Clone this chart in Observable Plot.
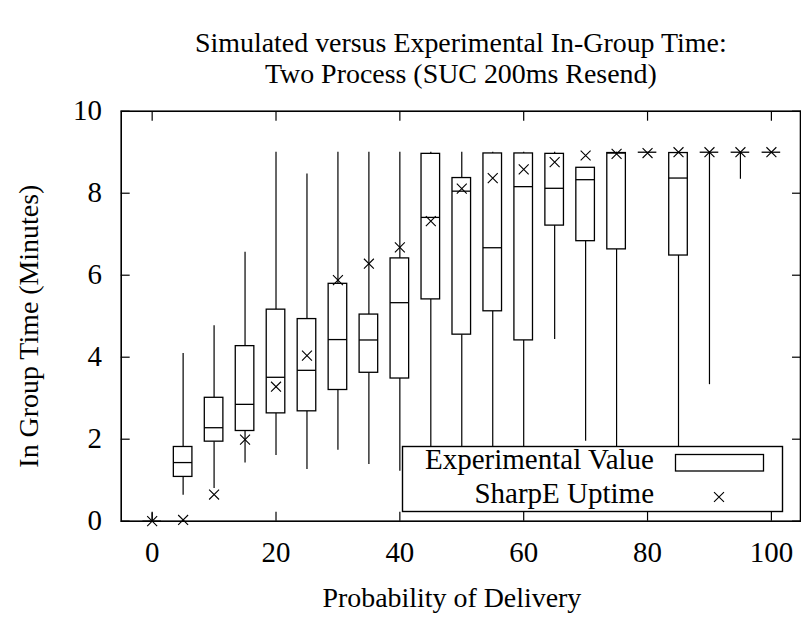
<!DOCTYPE html>
<html>
<head>
<meta charset="utf-8">
<script src="https://cdn.jsdelivr.net/npm/d3@7"></script>
<script src="https://cdn.jsdelivr.net/npm/@observablehq/plot@0.6"></script>
<style>
  html, body { margin: 0; padding: 0; background: #fff; }
  #wrap { position: relative; width: 801px; height: 617px; overflow: hidden; }
  #wrap svg { display: block; }
  #legend { position: absolute; left: 0; top: 0; }
</style>
</head>
<body>
<div id="wrap"></div>
<script>
// ---- data ----
const titleLines = ["Simulated versus Experimental In-Group Time:", "Two Process (SUC 200ms Resend)"];
const xLabel = "Probability of Delivery";
const yLabel = "In Group Time (Minutes)";
const xTicks = [0, 20, 40, 60, 80, 100];
const yTicks = [0, 2, 4, 6, 8, 10];
const probability = [0, 5, 10, 15, 20, 25, 30, 35, 40, 45, 50, 55, 60, 65, 70, 75, 80, 85, 90, 95, 100];
const whiskerLow  = [0, 0.63, 0.80, 1.42, 1.60, 1.26, 1.73, 1.38, 1.22, 1.0, 1.0, 1.0, 1.0, 4.43, 1.95, 1.0, 9, 1.0, 3.33, 8.34, 9];
const quartile1   = [0, 1.08, 1.94, 2.20, 2.63, 2.68, 3.20, 3.62, 3.48, 5.41, 4.55, 5.12, 4.41, 7.21, 6.83, 6.63, 9, 6.48, 9, 9, 9];
const median      = [0, 1.43, 2.28, 2.85, 3.51, 3.68, 4.43, 4.42, 5.33, 7.41, 8.05, 6.67, 8.16, 8.12, 8.33, 8.98, 9, 8.37, 9, 9, 9];
const quartile3   = [0, 1.81, 3.01, 4.27, 5.16, 4.93, 5.79, 5.04, 6.41, 8.96, 8.37, 8.97, 8.97, 8.96, 8.62, 8.98, 9, 8.98, 9, 9, 9];
const whiskerHigh = [0.2, 4.09, 4.77, 6.56, 9, 8.47, 9, 9, 9, 9, 9, 9, 9, 9, 8.62, 9, 9, 9, 9, 9, 9];
const sharpE      = [0, 0.03, 0.65, 1.99, 3.28, 4.04, 5.88, 6.28, 6.68, 7.32, 8.11, 8.37, 8.58, 8.76, 8.92, 8.96, 8.98, 9, 9, 9, 9];
const legendLabels = ["Experimental Value", "SharpE Uptime"];

const rows = probability.map((p, i) => ({
  p, lo: whiskerLow[i], q1: quartile1[i], med: median[i], q3: quartile3[i], hi: whiskerHigh[i], s: sharpE[i]
}));

const FONT = "Liberation Serif, Times New Roman, serif";
const FS = 29;
const halfBox = 1.5;
const txt = { fontFamily: FONT, fontSize: FS, fill: "black", lineAnchor: "middle", textAnchor: "middle" };

const chart = Plot.plot({
  width: 803,
  height: 617,
  marginLeft: 121,
  marginRight: 1,
  marginTop: 111,
  marginBottom: 95,
  style: { fontFamily: FONT, fontSize: FS + "px", background: "white", color: "black", overflow: "visible" },
  x: { domain: [-5, 104.7] },
  y: { domain: [0, 10] },
  marks: [
    // whiskers
    Plot.ruleX(rows, { x: "p", y1: "lo", y2: "q1", stroke: "black", strokeWidth: 1.2 }),
    Plot.ruleX(rows, { x: "p", y1: "q3", y2: "hi", stroke: "black", strokeWidth: 1.2 }),
    // boxes
    Plot.rect(rows, { x1: d => d.p - halfBox, x2: d => d.p + halfBox, y1: "q1", y2: "q3", fill: "white", stroke: "black", strokeWidth: 1.3 }),
    // medians
    Plot.ruleY(rows, { y: "med", x1: d => d.p - halfBox, x2: d => d.p + halfBox, stroke: "black", strokeWidth: 1.3 }),
    // SharpE markers
    Plot.dot(rows, { x: "p", y: "s", symbol: "times", r: 4.6, stroke: "black", strokeWidth: 1.1 }),
    // axes (inward ticks)
    Plot.axisX({ ticks: xTicks, anchor: "bottom", tickSize: -9, tickPadding: 29.4, fontSize: FS, fontFamily: FONT, label: null, stroke: "black", strokeWidth: 1.2 }),
    Plot.axisX({ ticks: xTicks, anchor: "top", tickSize: -9, fill: "none", label: null, stroke: "black", strokeWidth: 1.2 }),
    Plot.axisY({ ticks: yTicks, anchor: "left", tickSize: -9, tickPadding: 28.3, fontSize: FS, fontFamily: FONT, label: null, stroke: "black", strokeWidth: 1.2 }),
    Plot.axisY({ ticks: yTicks, anchor: "right", tickSize: -9, fill: "none", label: null, stroke: "black", strokeWidth: 1.2 }),
    Plot.frame({ stroke: "black", strokeWidth: 1.6 }),
    // axis titles and chart title
    Plot.text([xLabel], { ...txt, fontSize: 28, frameAnchor: "bottom", dx: -9, dy: 77 }),
    Plot.text([yLabel], { ...txt, fontSize: 28, frameAnchor: "left", rotate: -90, dx: -92, dy: 10 }),
    Plot.text([titleLines[0]], { ...txt, fontSize: 28, frameAnchor: "top", dy: -68 }),
    Plot.text([titleLines[1]], { ...txt, fontSize: 28, frameAnchor: "top", dy: -37 })
  ]
});

const wrap = document.getElementById("wrap");
wrap.appendChild(chart);

// legend overlay (key box), drawn on top of the whiskers it hides
const leg = d3.select(wrap).append("svg")
  .attr("id", "legend").attr("width", 801).attr("height", 617)
  .style("position", "absolute").style("left", "0px").style("top", "0px");
leg.append("rect").attr("x", 402.5).attr("y", 446.5).attr("width", 380).attr("height", 65)
  .attr("fill", "white").attr("stroke", "black").attr("stroke-width", 1.4);
leg.append("text").attr("x", 654).attr("y", 469.3).attr("text-anchor", "end")
  .attr("font-family", FONT).attr("font-size", FS).text(legendLabels[0]);
leg.append("text").attr("x", 654).attr("y", 503.3).attr("text-anchor", "end")
  .attr("font-family", FONT).attr("font-size", FS).text(legendLabels[1]);
leg.append("rect").attr("x", 675.5).attr("y", 454.5).attr("width", 88).attr("height", 16.5)
  .attr("fill", "white").attr("stroke", "black").attr("stroke-width", 1.3);
leg.append("path").attr("transform", "translate(719,497)")
  .attr("d", d3.symbol(d3.symbolTimes, Math.PI * 4.6 * 4.6)())
  .attr("fill", "none").attr("stroke", "black").attr("stroke-width", 1.1);
</script>
</body>
</html>
